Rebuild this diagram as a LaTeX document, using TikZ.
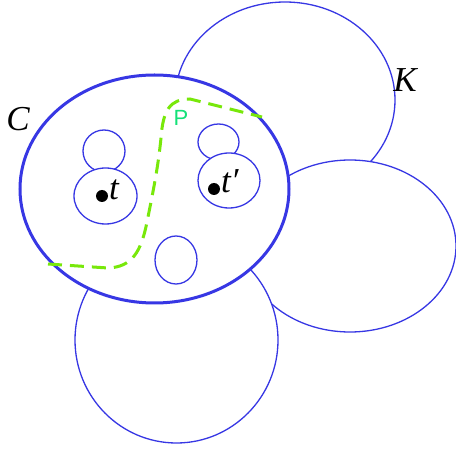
\documentclass[tikz,border=0pt]{standalone}
\usepackage{fontspec}
\setmainfont{Liberation Serif}
\newfontfamily\psans{Liberation Sans}
\usetikzlibrary{shapes.geometric}
\definecolor{eblue}{RGB}{55,55,228}
\definecolor{pgreen}{RGB}{120,232,10}
\definecolor{plabel}{RGB}{20,225,120}
\begin{document}
\begin{tikzpicture}[x=1pt,y=-1pt,
  blob/.style={ellipse,draw=eblue,fill=white,line width=1.3pt,inner sep=0pt},
  bigblob/.style={ellipse,draw=eblue,fill=white,line width=3pt,inner sep=0pt},
  lab/.style={font=\fontsize{35}{35}\selectfont\itshape,inner sep=0pt},
  pt/.style={circle,fill=black,inner sep=0pt,minimum size=12pt},
  ppath/.style={draw=pgreen,line width=3pt,dash pattern=on 14pt off 8pt}]
\useasboundingbox (0,0) rectangle (456,449);
\node[blob,minimum width=220pt,minimum height=196pt] (K1) at (285,100) {};
\node[blob,minimum width=212pt,minimum height=172pt] (K2) at (350,246) {};
\node[blob,minimum width=203pt,minimum height=206pt] (K3) at (176.5,340) {};
\node[bigblob,minimum width=269pt,minimum height=228pt] (C) at (154.5,189) {};
\node[blob,minimum width=42pt,minimum height=42pt] (a1) at (104,151) {};
\node[blob,minimum width=63pt,minimum height=56pt] (a2) at (105.5,196) {};
\node[blob,minimum width=41pt,minimum height=36pt] (b1) at (218.5,142) {};
\node[blob,minimum width=62pt,minimum height=55pt] (b2) at (229,180.5) {};
\node[blob,minimum width=42pt,minimum height=48pt] (c1) at (176,260) {};
\node[pt] (t) at (102,196) {};
\node[pt] (tp) at (214,189) {};
\node[lab,anchor=base west] (tl) at (109,200) {t};
\node[lab,anchor=base west] (tpl) at (221,193) {t′};
\node[lab,anchor=base] (Cl) at (18,131) {C};
\node[lab,anchor=base] (Kl) at (405,92) {K};
\node[font=\fontsize{22}{22}\psans,text=plabel,inner sep=0pt,anchor=base] (Pl) at (181,126) {P};
\coordinate (p0) at (48,264);
\coordinate (p1) at (262,117);
\draw[ppath] (p0) -- (108,268) .. controls (132,267) and (141,252) .. (147,222)
  .. controls (153,192) and (158,168) .. (161,138)
  .. controls (163,110) and (170,99) .. (190,99) -- (p1);
\end{tikzpicture}
\end{document}
